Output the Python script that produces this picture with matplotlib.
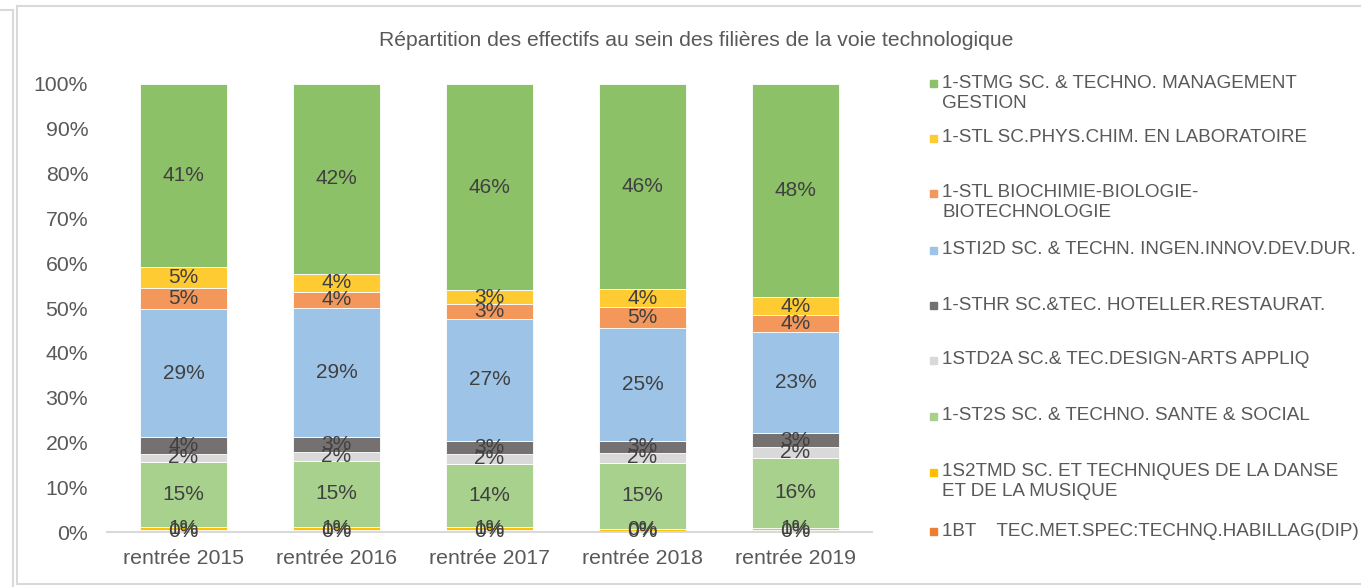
import matplotlib
matplotlib.use("Agg")
import matplotlib.pyplot as plt
from matplotlib.lines import Line2D
from matplotlib.patches import Rectangle
import numpy as np

plt.rcParams['font.family'] = ['Liberation Sans', 'DejaVu Sans']

categories = ["rentrée 2015", "rentrée 2016", "rentrée 2017", "rentrée 2018", "rentrée 2019"]

# series listed from bottom of the stack to top
series_names = [
    "1BT    TEC.MET.SPEC:TECHNQ.HABILLAG(DIP)",
    "1S2TMD SC. ET TECHNIQUES DE LA DANSE\nET DE LA MUSIQUE",
    "1-ST2S SC. & TECHNO. SANTE & SOCIAL",
    "1STD2A SC.& TEC.DESIGN-ARTS APPLIQ",
    "1-STHR SC.&TEC. HOTELLER.RESTAURAT.",
    "1STI2D SC. & TECHN. INGEN.INNOV.DEV.DUR.",
    "1-STL BIOCHIMIE-BIOLOGIE-\nBIOTECHNOLOGIE",
    "1-STL SC.PHYS.CHIM. EN LABORATOIRE",
    "1-STMG SC. & TECHNO. MANAGEMENT\nGESTION",
]

bt     = [0.4, 0.4, 0.4, 0.3, 0.4]
s2tmd  = [0.7, 0.8, 0.7, 0.3, 0.6]
st2s   = [14.6, 14.7, 14.0, 14.9, 15.6]
std2a  = [1.8, 2.0, 2.4, 2.2, 2.3]
sthr   = [3.6, 3.3, 2.9, 2.7, 3.1]
sti2d  = [28.6, 28.8, 27.2, 25.2, 22.6]
stlbio = [4.7, 3.6, 3.3, 4.6, 3.8]
stlpc  = [4.7, 4.0, 3.1, 4.0, 4.0]
stmg   = [40.9, 42.4, 46.0, 45.8, 47.6]

values = [bt, s2tmd, st2s, std2a, sthr, sti2d, stlbio, stlpc, stmg]
colors = ["#ED7D31", "#FFC000", "#A9D18E", "#D9D9D9", "#767171",
          "#9DC3E6", "#F4975A", "#FFCB33", "#8CC168"]

yticks = [0, 10, 20, 30, 40, 50, 60, 70, 80, 90, 100]
title = "Répartition des effectifs au sein des filières de la voie technologique"

W, H = 1361, 587
fig = plt.figure(figsize=(W / 100, H / 100), dpi=100)
ax = fig.add_axes([107 / W, 1 - 532 / H, (872 - 107) / W, (532 - 84) / H])

x = np.arange(len(categories))
bottom = np.zeros(len(categories))
for vals, col in zip(values, colors):
    v = np.array(vals)
    ax.bar(x, v, width=0.575, bottom=bottom, color=col, edgecolor="white", linewidth=0.6)
    for xi, b, vi in zip(x, bottom, v):
        ax.text(xi, b + vi / 2, f"{int(vi + 0.5)}%", ha="center", va="center",
                fontsize=15, color="#404040")
    bottom += v

ax.set_xlim(-0.5, 4.5)
ax.set_ylim(0, 100)
ax.set_yticks(yticks)
ax.set_yticklabels([f"{t}%" for t in yticks])
ax.set_xticks(x)
ax.set_xticklabels(categories)
ax.tick_params(axis="both", length=0, labelsize=15.3, labelcolor="#595959")
ax.tick_params(axis="y", pad=13.5)
ax.tick_params(axis="x", pad=12.5)
for s in ["top", "right", "left"]:
    ax.spines[s].set_visible(False)
ax.spines["bottom"].set_color("#D9D9D9")
ax.spines["bottom"].set_linewidth(1.5)

fig.text(696 / W, 1 - 40 / H, title, ha="center", va="center", fontsize=15.2, color="#595959")

# legend (drawn manually, in reverse stacking order)
leg_y = [83, 138, 193, 250, 305, 360, 416, 472, 531]
for name, col, yy in zip(series_names[::-1], colors[::-1], leg_y):
    fig.add_artist(Rectangle((930 / W, 1 - (yy + 4) / H), 7 / W, 7 / H,
                             transform=fig.transFigure, color=col))
    for k, line in enumerate(name.split("\n")):
        fig.text(942 / W, 1 - (yy + 20 * k) / H, line, ha="left", va="center",
                 fontsize=13.6, color="#595959")

# chart frame
fc = "#D9D9D9"
fig.add_artist(Line2D([16.5 / W, 16.5 / W], [1 - 5.5 / H, 1 - 583.5 / H], transform=fig.transFigure, color=fc, lw=1.5))
fig.add_artist(Line2D([16.5 / W, 1], [1 - 5.5 / H, 1 - 5.5 / H], transform=fig.transFigure, color=fc, lw=1.5))
fig.add_artist(Line2D([16.5 / W, 1], [1 - 583.5 / H, 1 - 583.5 / H], transform=fig.transFigure, color=fc, lw=1.5))
fig.add_artist(Line2D([13 / W, 13 / W], [1 - 9.5 / H, 0], transform=fig.transFigure, color=fc, lw=1.5))
fig.add_artist(Line2D([0, 13 / W], [1 - 9.5 / H, 1 - 9.5 / H], transform=fig.transFigure, color=fc, lw=1.5))

fig.savefig("out.png", dpi=100)
